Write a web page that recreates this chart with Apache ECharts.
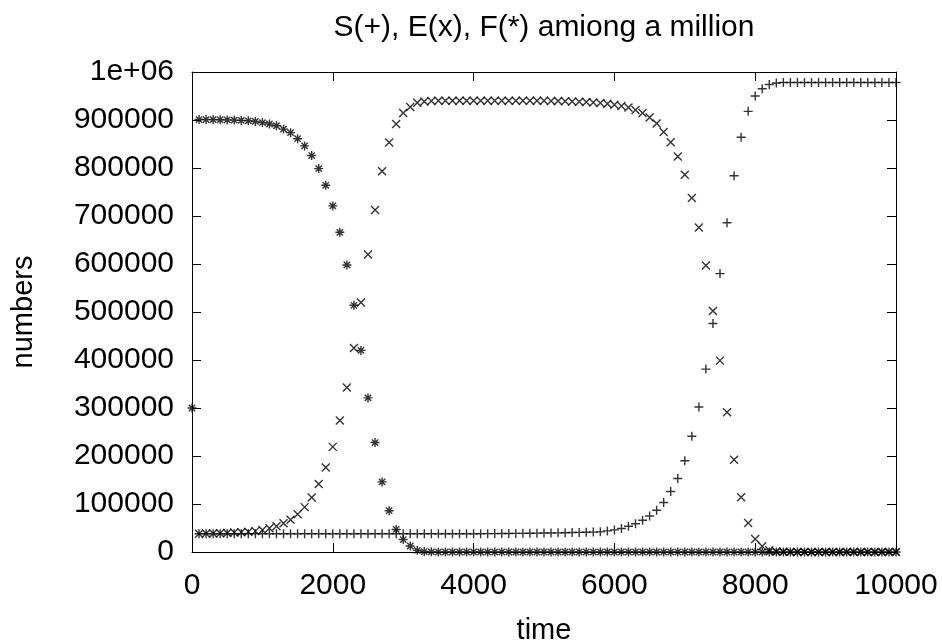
<!DOCTYPE html>
<html>
<head>
<meta charset="utf-8">
<script src="https://cdn.jsdelivr.net/npm/echarts@6/dist/echarts.min.js"></script>
<style>
html,body{margin:0;padding:0;background:#fff;}
#chart{width:942px;height:644px;}
</style>
</head>
<body>
<div id="chart"></div>
<script>
const titleText = 'S(+), E(x), F(*) amiong a million';
const xName = 'time';
const yName = 'numbers';
const xTicks = [0, 2000, 4000, 6000, 8000, 10000];
const yTicks = [0, 100000, 200000, 300000, 400000, 500000, 600000, 700000, 800000, 900000, 1000000];

const times = [0,100,200,300,400,500,600,700,800,900,
  1000,1100,1200,1300,1400,1500,1600,1700,1800,1900,
  2000,2100,2200,2300,2400,2500,2600,2700,2800,2900,
  3000,3100,3200,3300,3400,3500,3600,3700,3800,3900,
  4000,4100,4200,4300,4400,4500,4600,4700,4800,4900,
  5000,5100,5200,5300,5400,5500,5600,5700,5800,5900,
  6000,6100,6200,6300,6400,6500,6600,6700,6800,6900,
  7000,7100,7200,7300,7400,7500,7600,7700,7800,7900,
  8000,8100,8200,8300,8400,8500,8600,8700,8800,8900,
  9000,9100,9200,9300,9400,9500,9600,9700,9800,9900,
  10000];

const S = [null,38000,38000,38000,38000,38000,38000,38000,38000,38000,
  38000,38000,38000,38000,38000,38000,38000,38000,38000,38000,
  38000,38000,38000,38000,38000,38000,38000,38000,38000,38000,
  38000,38000,38000,38000,38000,38000,38000,38000,38000,38000,
  38000,38100,38200,38300,38400,38500,38700,38900,39100,39300,
  39500,39700,39900,40200,40500,40800,41100,41500,42000,44000,
  46000,49000,53500,59000,66000,75000,87000,103000,126000,153000,
  190000,241000,302000,381000,476000,580000,686000,784000,864000,918000,
  950000,965000,974000,977000,978000,978000,978000,978000,978000,978000,
  978000,978000,978000,978000,978000,978000,978000,978000,978000,978000,
  978000];

const E = [null,38000,38300,38700,39200,39800,40500,41300,42300,43500,
  46000,49500,53500,60000,67000,78500,93500,113500,141500,176000,
  219000,274000,342500,425000,520000,619600,712500,793000,853000,891700,
  914600,927000,936000,938500,939500,940000,940000,940000,940000,940000,
  940000,940000,940000,940000,940000,940000,940000,940000,940000,940000,
  940000,939700,939400,939000,938500,938000,937300,936500,935400,934000,
  932000,929000,926000,921000,914600,905000,892500,875000,853500,824000,
  786000,737500,675800,596700,502000,398700,291000,192400,114000,60500,
  27000,12000,3500,1000,300,0,0,0,0,0,
  0,0,0,0,0,0,0,0,0,0,
  0];

const F = [300000,901000,901000,900800,900500,900200,899800,899200,898300,897000,
  894600,891700,888000,881000,873600,861000,846000,826000,798700,764000,
  721000,666000,598000,514000,420000,321000,228000,146000,86000,47000,
  26000,12500,3500,1000,300,0,0,0,0,0,
  0,0,0,0,0,0,0,0,0,0,
  0,0,0,0,0,0,0,0,0,0,
  0,0,0,0,0,0,0,0,0,0,
  0,0,0,0,0,0,0,0,0,0,
  0,0,0,0,0,0,0,0,0,0,
  0,0,0,0,0,0,0,0,0,0,
  0];

function pairs(vals) {
  const out = [];
  for (let i = 0; i < times.length; i++) {
    if (vals[i] !== null && vals[i] !== undefined) out.push([times[i], vals[i]]);
  }
  return out;
}

const FONT = 'Liberation Sans, Arial, Helvetica, sans-serif';
const plusPath = 'path://M0,5L10,5M5,0L5,10';
const crossPath = 'path://M0,0L10,10M0,10L10,0';
const starPath = 'path://M0,5L10,5M5,0L5,10M1.5,1.5L8.5,8.5M1.5,8.5L8.5,1.5';

function xFmt(v) { return String(v); }
function yFmt(v) {
  if (v === 1000000) return '1e+06';
  return String(v);
}

const chart = echarts.init(document.getElementById('chart'), null, {renderer: 'canvas'});

const markerStyle = {color: 'rgba(0,0,0,0)', borderColor: '#000', borderWidth: 1.4};

const option = {
  animation: false,
  backgroundColor: '#fff',
  title: {
    text: titleText,
    left: 539,
    top: 8,
    textAlign: 'center',
    textStyle: {fontFamily: FONT, fontSize: 30, fontWeight: 'normal', color: '#000'}
  },
  grid: {left: 192, right: 46, top: 72, bottom: 92, containLabel: false, outerBoundsMode: 'none'},
  xAxis: [{
    type: 'value',
    min: xTicks[0], max: xTicks[xTicks.length - 1], interval: xTicks[1] - xTicks[0],
    name: xName, nameLocation: 'middle', nameGap: 64,
    nameTextStyle: {fontFamily: FONT, fontSize: 29, color: '#000'},
    axisLine: {show: true, onZero: false, lineStyle: {color: '#000', width: 1}},
    axisTick: {show: true, inside: true, length: 9, lineStyle: {color: '#000', width: 1}},
    axisLabel: {show: true, margin: 19, fontFamily: FONT, fontSize: 30, color: '#000', formatter: xFmt},
    splitLine: {show: false}
  }, {
    type: 'value', position: 'top',
    min: xTicks[0], max: xTicks[xTicks.length - 1], interval: xTicks[1] - xTicks[0],
    axisLine: {show: true, onZero: false, lineStyle: {color: '#000', width: 1}},
    axisTick: {show: true, inside: true, length: 9, lineStyle: {color: '#000', width: 1}},
    axisLabel: {show: false},
    splitLine: {show: false}
  }],
  yAxis: [{
    type: 'value',
    min: yTicks[0], max: yTicks[yTicks.length - 1], interval: yTicks[1] - yTicks[0],
    name: yName, nameLocation: 'middle', nameGap: 154, nameRotate: 90,
    nameTextStyle: {fontFamily: FONT, fontSize: 29, color: '#000'},
    axisLine: {show: true, onZero: false, lineStyle: {color: '#000', width: 1}},
    axisTick: {show: true, inside: true, length: 9, lineStyle: {color: '#000', width: 1}},
    axisLabel: {show: true, margin: 18, fontFamily: FONT, fontSize: 30, color: '#000', formatter: yFmt},
    splitLine: {show: false}
  }, {
    type: 'value', position: 'right',
    min: yTicks[0], max: yTicks[yTicks.length - 1], interval: yTicks[1] - yTicks[0],
    axisLine: {show: true, onZero: false, lineStyle: {color: '#000', width: 1}},
    axisTick: {show: true, inside: true, length: 9, lineStyle: {color: '#000', width: 1}},
    axisLabel: {show: false},
    splitLine: {show: false}
  }],
  series: [{
    name: 'S', type: 'scatter', xAxisIndex: 0, yAxisIndex: 0,
    data: pairs(S), symbol: plusPath, symbolSize: 9, clip: false,
    itemStyle: markerStyle, emphasis: {disabled: true}, silent: true
  }, {
    name: 'E', type: 'scatter', xAxisIndex: 0, yAxisIndex: 0,
    data: pairs(E), symbol: crossPath, symbolSize: 8, clip: false,
    itemStyle: markerStyle, emphasis: {disabled: true}, silent: true
  }, {
    name: 'F', type: 'scatter', xAxisIndex: 0, yAxisIndex: 0,
    data: pairs(F), symbol: starPath, symbolSize: 9, clip: false,
    itemStyle: markerStyle, emphasis: {disabled: true}, silent: true
  }]
};

chart.setOption(option);
</script>
</body>
</html>
